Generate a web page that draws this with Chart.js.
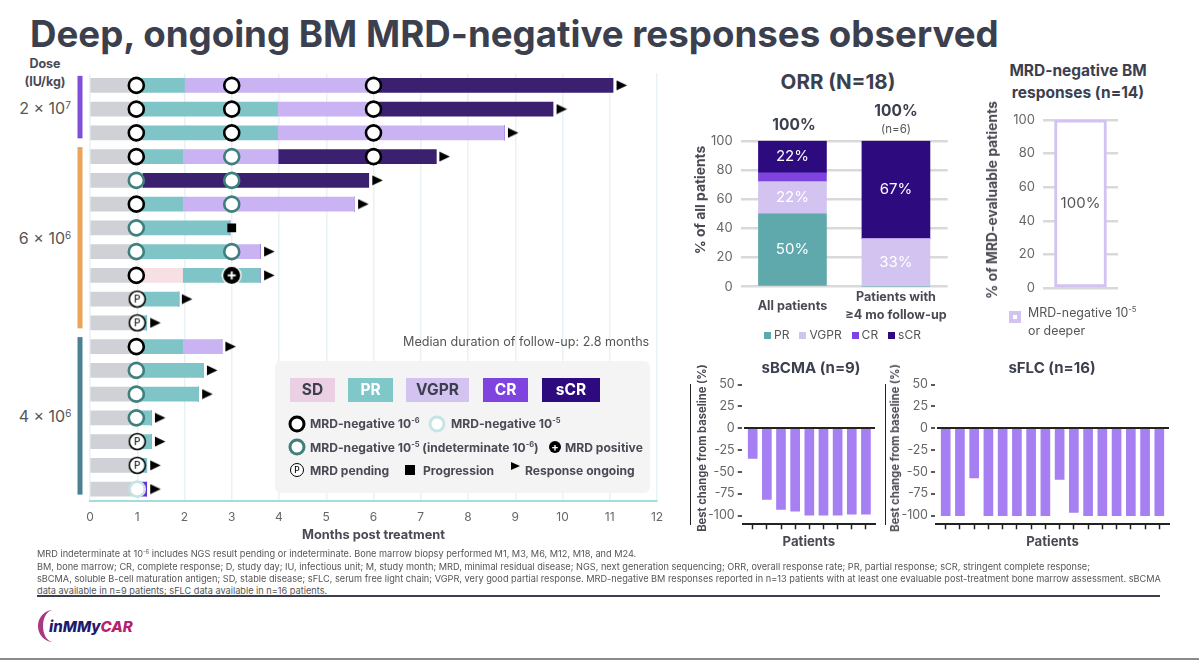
<!DOCTYPE html>
<html><head><meta charset="utf-8">
<script src="https://cdn.jsdelivr.net/npm/chart.js@4"></script>
<style>
html,body{margin:0;padding:0;background:#fff;width:1199px;height:660px;overflow:hidden;font-family:Inter,sans-serif;color:#555}
canvas{position:absolute}
.t{position:absolute;transform:translate(-50%,-50%);white-space:nowrap;text-align:center}
.l{position:absolute;transform:translateY(-50%);white-space:nowrap}
.b{font-weight:700}
.rot{position:absolute;transform:translate(-50%,-50%) rotate(-90deg);white-space:nowrap;font-weight:700;color:#4a4a55}
sup{font-size:.62em;line-height:0;vertical-align:.55em}
.chip{position:absolute;top:378px;height:24px;line-height:24px;text-align:center;font-weight:700;font-size:15.5px}
.lg{font-size:12.1px;font-weight:700;color:#4a4a55}
.ring{position:absolute;width:11px;height:11px;border-radius:50%;background:#fff;transform:translate(-50%,-50%);border:3.5px solid #000}
.fn{position:absolute;left:37px;font-size:9.2px;color:#555;white-space:nowrap;line-height:12px}
</style></head><body>
<div class="l b" style="left:30px;top:33px;font-size:36.7px;color:#3c3f4e">Deep, ongoing BM MRD-negative responses observed</div>

<div class="t b" style="left:45px;top:63px;font-size:12.5px;color:#4a4a55">Dose</div>
<div class="t b" style="left:45px;top:81px;font-size:12.5px;color:#4a4a55">(IU/kg)</div>
<div class="t" style="left:45px;top:108px;font-size:16px">2 × 10<sup>7</sup></div>
<div class="t" style="left:45px;top:238px;font-size:16px">6 × 10<sup>6</sup></div>
<div class="t" style="left:45px;top:416px;font-size:16px">4 × 10<sup>6</sup></div>

<canvas id="swim" width="680" height="490" style="left:0;top:60px;width:680px;height:490px"></canvas>
<canvas id="orr" width="268" height="205" style="left:690px;top:125px;width:268px;height:205px"></canvas>
<canvas id="mrd" width="143" height="200" style="left:985px;top:104px;width:143px;height:200px"></canvas>
<canvas id="bcma" width="190" height="178" style="left:690px;top:374px;width:190px;height:178px"></canvas>
<canvas id="flc" width="289" height="178" style="left:885px;top:374px;width:289px;height:178px"></canvas>

<div class="rot" style="left:700px;top:200px;font-size:13.8px">% of all patients</div>
<div class="rot" style="left:992px;top:200px;font-size:13.9px">% of MRD-evaluable patients</div>
<div class="rot" style="left:702px;top:448px;font-size:11.2px">Best change from baseline (%)</div>
<div class="rot" style="left:895px;top:448px;font-size:11.2px">Best change from baseline (%)</div>

<div class="l" style="left:403px;top:341px;font-size:12.6px;color:#555">Median duration of follow-up: 2.8 months</div>
<div style="position:absolute;left:275px;top:361px;width:375px;height:132px;background:#f4f4f5;border-radius:6px"></div>
<div class="chip" style="left:290px;width:45px;background:#ebd0e4;color:#3c3f4e">SD</div>
<div class="chip" style="left:348px;width:45px;background:#7fc7c9;color:#fff">PR</div>
<div class="chip" style="left:406px;width:63px;background:#d3c3f1;color:#3c3f4e">VGPR</div>
<div class="chip" style="left:483px;width:45px;background:#7f44e0;color:#fff">CR</div>
<div class="chip" style="left:542px;width:58px;background:#2e0a7f;color:#fff">sCR</div>

<div class="ring" style="left:297px;top:424px"></div>
<div class="l lg" style="left:310px;top:423px">MRD-negative 10<sup>-6</sup></div>
<div class="ring" style="left:437px;top:424px;border-color:#c5e5e5"></div>
<div class="l lg" style="left:451px;top:423px">MRD-negative 10<sup>-5</sup></div>
<div class="ring" style="left:297px;top:447px;border-color:#3f7f7c"></div>
<div class="l lg" style="left:310px;top:447px">MRD-negative 10<sup>-5</sup> (indeterminate 10<sup>-6</sup>)</div>
<div style="position:absolute;left:549px;top:441px;width:12px;height:12px;border-radius:50%;background:#000;color:#fff;font:700 11px/12px Inter;text-align:center">+</div>
<div class="l lg" style="left:565px;top:447px">MRD positive</div>
<div style="position:absolute;left:290px;top:463px;width:12px;height:12px;border-radius:50%;border:1.3px solid #000;background:#fff;color:#000;font:500 8.5px/12px Inter;text-align:center">P</div>
<div class="l lg" style="left:310px;top:470px">MRD pending</div>
<div style="position:absolute;left:405px;top:465px;width:10px;height:10px;background:#000"></div>
<div class="l lg" style="left:423px;top:470px">Progression</div>
<div style="position:absolute;left:511px;top:462px;width:0;height:0;border-left:9px solid #000;border-top:4px solid transparent;border-bottom:4px solid transparent"></div>
<div class="l lg" style="left:525px;top:470px">Response ongoing</div>

<div class="t b" style="left:838px;top:81px;font-size:20.5px;color:#3c3f4e">ORR (N=18)</div>
<div class="t b" style="left:1078px;top:70px;font-size:15.5px;color:#3c3f4e">MRD-negative BM</div>
<div class="t b" style="left:1078px;top:92px;font-size:15.5px;color:#3c3f4e">responses (n=14)</div>
<div class="t b" style="left:794px;top:124px;font-size:15.5px;color:#3c3f4e">100%</div>
<div class="t b" style="left:896px;top:110px;font-size:15.5px;color:#3c3f4e">100%</div>
<div class="t" style="left:896px;top:129px;font-size:11.5px;color:#555">(n=6)</div>
<div id="orrLegend" style="position:absolute;left:764px;top:327px;height:12px;font-size:12px;color:#555;white-space:nowrap"></div>

<div style="position:absolute;left:1009px;top:311px;width:4px;height:4px;border:4px solid #d3c3f1;background:#fff"></div>
<div class="l" style="left:1028px;top:312px;font-size:12.4px">MRD-negative 10<sup>-5</sup></div>
<div class="l" style="left:1028px;top:330px;font-size:12.4px">or deeper</div>

<div class="t b" style="left:811px;top:367px;font-size:15px;color:#3c3f4e">sBCMA (n=9)</div>
<div class="t b" style="left:1052px;top:367px;font-size:15px;color:#3c3f4e">sFLC (n=16)</div>

<div class="fn" style="top:548px">MRD indeterminate at 10<sup>-6</sup> includes NGS result pending or indeterminate. Bone marrow biopsy performed M1, M3, M6, M12, M18, and M24.</div>
<div class="fn" style="top:561px">BM, bone marrow; CR, complete response; D, study day; IU, infectious unit; M, study month; MRD, minimal residual disease; NGS, next generation sequencing; ORR, overall response rate; PR, partial response; sCR, stringent complete response;</div>
<div class="fn" style="top:573px">sBCMA, soluble B-cell maturation antigen; SD, stable disease; sFLC, serum free light chain; VGPR, very good partial response. MRD-negative BM responses reported in n=13 patients with at least one evaluable post-treatment bone marrow assessment. sBCMA</div>
<div class="fn" style="top:585px">data available in n=9 patients; sFLC data available in n=16 patients.</div>
<div style="position:absolute;left:37px;top:595px;width:1123px;height:2px;background:#3c3f4e"></div>
<div style="position:absolute;left:38px;top:610px;width:30px;height:32px;border-radius:50%;border-left:5px solid #a9387f;box-sizing:border-box"></div>
<div class="l" style="left:49px;top:626px;font-size:15px;font-weight:800;font-style:italic;color:#1f1a6b">inMMy<span style="color:#b5226e">CAR</span></div>
<div style="position:absolute;left:0;top:658px;width:1199px;height:2px;background:#8a8a8a"></div>

<script>
// ---------- swimmer data (months spent in each state, one entry per patient row) ----------
const rows = ['R1','R2','R3','R4','R5','R6','R7','R8','R9','R10','R11','R12','R13','R14','R15','R16','R17','R18'];
const preResponse = [1,1,1,1,1.1,1,1,1,1,1,1,1,1,1,1,1,1,1];
const sdMonths    = [0,0,0,0,0,0,0,0,0.96,0,0,0,0,0,0,0,0,0];
const prMonths    = [1,2.97,2.97,0.96,0,0.96,1.96,2,1.64,0.88,0.2,0.96,1.39,1.3,0.3,0.3,0.2,0];
const vgprMonths  = [4,2.03,4.8,2.02,0,3.64,0,0.6,0,0,0,0.83,0,0,0,0,0,0];
const crMonths    = [0,0,0,0,0,0,0,0,0,0,0,0,0,0,0,0,0,0.2];
const scrMonths   = [5.07,3.8,0,3.35,4.8,0,0,0,0,0,0,0,0,0,0,0,0,0];
// markers: [month, row]
const mrdNeg6 = [[0.98,'R1'],[3,'R1'],[6,'R1'],[0.98,'R2'],[3,'R2'],[6,'R2'],[0.98,'R3'],[3,'R3'],[6,'R3'],[0.98,'R4'],[6,'R4'],[0.98,'R6'],[0.98,'R9'],[0.98,'R12']];
const mrdIndet = [[3,'R4'],[0.98,'R5'],[3,'R5'],[3,'R6'],[0.98,'R7'],[0.98,'R8'],[3,'R8'],[0.98,'R13'],[0.98,'R14'],[0.98,'R15']];
const mrdNeg5 = [[1,'R18']];
const mrdPositive = [[3,'R9']];
const mrdPending = [[1,'R10'],[1,'R11'],[1,'R16'],[1,'R17']];
const progression = [[3,'R7']];
const ongoing = [[11.25,'R1'],[9.98,'R2'],[8.95,'R3'],[7.5,'R4'],[6.08,'R5'],[5.78,'R6'],[3.79,'R8'],[3.79,'R9'],[2.05,'R10'],[1.38,'R11'],[2.97,'R12'],[2.58,'R13'],[2.48,'R14'],[1.48,'R15'],[1.48,'R16'],[1.38,'R17'],[1.38,'R18']];
const monthTicks = [0,1,2,3,4,5,6,7,8,9,10,11,12];
const doseGroups = [['R1','R3','#7f4fd8'],['R4','R11','#eba45a'],['R12','R18','#4a8090']];
// ---------- ORR ----------
const orrCategories = ['All patients',['Patients with','≥4 mo follow-up']];
const orrPR = [50,0], orrVGPR=[22,33], orrCR=[6,0], orrSCR=[22,67];
const orrTicks = [0,20,40,60,80,100];
// ---------- MRD ----------
const mrdCategories = ['MRD-negative 10-5 or deeper'];
const mrdValues = [100];
// ---------- sBCMA / sFLC ----------
const bcmaPatients = [1,2,3,4,5,6,7,8,9];
const bcmaValues = [-34.5,-81.5,-93,-95,-99.5,-99.5,-99.5,-98.5,-98.5];
const flcPatients = [1,2,3,4,5,6,7,8,9,10,11,12,13,14,15,16];
const flcValues = [-100,-100,-57,-100,-100,-100,-100,-100,-58.5,-96.5,-100,-100,-100,-100,-100,-100];
const changeTicks = [50,25,0,-25,-50,-75,-100];

Chart.defaults.font.family = 'Inter, sans-serif';
Chart.defaults.animation = false;
Chart.defaults.plugins.legend.display = false;
Chart.defaults.plugins.tooltip.enabled = false;
const GREY='#666';

function sprite(w,h,fn){const c=document.createElement('canvas');c.width=w;c.height=h;fn(c.getContext('2d'),w,h);return c;}
const arrowImg = sprite(12,11,(g,w,h)=>{g.fillStyle='#000';g.beginPath();g.moveTo(1,.5);g.lineTo(w-.5,h/2);g.lineTo(1,h-.5);g.closePath();g.fill();});
const pendImg = sprite(19,19,(g)=>{g.beginPath();g.arc(9.5,9.5,8,0,7);g.fillStyle='#fff';g.fill();g.lineWidth=1.6;g.strokeStyle='#000';g.stroke();g.fillStyle='#222';g.font='500 10px Inter';g.textAlign='center';g.textBaseline='middle';g.fillText('P',9.5,10);});
const plusImg = sprite(21,21,(g)=>{g.beginPath();g.arc(10.5,10.5,10,0,7);g.fillStyle='#fff';g.fill();g.beginPath();g.arc(10.5,10.5,8.5,0,7);g.fillStyle='#000';g.fill();g.fillStyle='#fff';g.fillRect(6.5,9.5,8,2);g.fillRect(9.5,6.5,2,8);});

const pts = a => a.map(p=>({x:p[0],y:p[1]}));
const bar = (data,color)=>({type:'bar',data,backgroundColor:color,stack:'s',barThickness:14,order:2});
const ring = (a,color)=>({type:'scatter',data:pts(a),pointStyle:'circle',pointRadius:7.5,pointBorderWidth:2.6,pointBorderColor:color,pointBackgroundColor:'#fff',order:1});
const glyph = (a,img)=>({type:'scatter',data:pts(a),pointStyle:img,pointRadius:6,order:0});

const dosePlugin = {id:'dose',afterDraw(c){const g=c.ctx,y=c.scales.y,a=c.chartArea;
  doseGroups.forEach(d=>{const t=y.getPixelForValue(rows.indexOf(d[0]))-9.5,b=y.getPixelForValue(rows.indexOf(d[1]))+5.5;
    g.fillStyle=d[2];g.fillRect(a.left-12.5,t,5,b-t);});}};

new Chart(document.getElementById('swim'),{
 type:'bar',
 data:{labels:rows,datasets:[
  bar(preResponse,'#cfd1d6'),bar(sdMonths,'#f7e0e4'),bar(prMonths,'#7fc4c6'),bar(vgprMonths,'#c9b3f2'),bar(crMonths,'#6b30d8'),bar(scrMonths,'#3b2070'),
  ring(mrdNeg6,'#000'),ring(mrdIndet,'#3f7f7c'),ring(mrdNeg5,'#c5e5e5'),
  glyph(mrdPositive,plusImg),glyph(mrdPending,pendImg),
  {type:'scatter',data:pts(progression),pointStyle:'rect',pointRadius:6.2,pointBackgroundColor:'#000',pointBorderWidth:0,order:0},
  glyph(ongoing,arrowImg)
 ]},
 options:{responsive:false,indexAxis:'y',
  layout:{padding:{left:90,right:23,top:13.5,bottom:7}},
  scales:{
   y:{type:'category',display:false,grid:{display:false}},
   x:{type:'linear',min:0,max:12,afterBuildTicks:s=>{s.ticks=monthTicks.map(v=>({value:v}));},afterFit:s=>{s.height=42;},
      border:{color:'#a5dcdc',width:2},
      grid:{color:'#e8f2f6',lineWidth:1.5,drawTicks:false},
      ticks:{color:GREY,font:{size:12},padding:9,autoSkip:false,maxRotation:0},
      title:{display:true,text:'Months post treatment',color:'#4a4a55',font:{size:12.8,weight:'700'},padding:{top:0,bottom:0}}}
  }},
 plugins:[dosePlugin]
});

const valueLabels={id:'valueLabels',afterDatasetsDraw(c,_,o){const g=c.ctx;g.save();g.font='15px Inter';g.textAlign='center';g.textBaseline='middle';g.fillStyle=o.color;
  c.data.datasets.forEach((ds,i)=>{c.getDatasetMeta(i).data.forEach((el,j)=>{const v=ds.data[j];if(v>=10){const p=el.getCenterPoint();g.fillText(v+'%',p.x,p.y);}});});g.restore();}};

const softY=(ticks,w)=>({min:0,max:100,afterBuildTicks:s=>{s.ticks=ticks.map(v=>({value:v}));},afterFit:s=>{s.width=w;},
   border:{display:false},grid:{color:'#d9d9d9',lineWidth:2.5,drawTicks:false},
   ticks:{color:GREY,font:{size:13},padding:8}});

const orrColors={PR:'#5fa8ac',VGPR:'#d3c3f1',CR:'#7f44e0',sCR:'#2e0a7f'};
const orrSeries=[['PR',orrPR],['VGPR',orrVGPR],['CR',orrCR],['sCR',orrSCR]];
new Chart(document.getElementById('orr'),{
 type:'bar',
 data:{labels:orrCategories,datasets:orrSeries.map(s=>({label:s[0],data:s[1],backgroundColor:orrColors[s[0]],barThickness:68,stack:'s'}))},
 options:{responsive:false,layout:{padding:{top:13.5,right:10.3,left:0,bottom:0}},
  plugins:{valueLabels:{color:'#fff'}},
  scales:{y:softY(orrTicks,50.7),
   x:{afterFit:s=>{s.height=43.3;},border:{display:false},grid:{display:false},
      ticks:{color:'#4a4a55',font:{size:12.6,weight:'700',lineHeight:1.35},padding:3,crossAlign:'center',maxRotation:0,autoSkip:false}}}},
 plugins:[valueLabels]
});
document.getElementById('orrLegend').innerHTML=orrSeries.map((s,i)=>
 `<span style="display:inline-block;width:7px;height:7px;background:${orrColors[s[0]]};margin:0 3px 0 ${i?10:0}px"></span>${s[0]}`).join('');

new Chart(document.getElementById('mrd'),{
 type:'bar',
 data:{labels:mrdCategories,datasets:[{data:mrdValues,backgroundColor:'#fff',borderColor:'#d3c3f1',borderWidth:3,borderSkipped:false,barThickness:52}]},
 options:{responsive:false,layout:{padding:{top:14,right:10,bottom:0.4}},
  plugins:{valueLabels:{color:'#555'}},
  scales:{y:softY(orrTicks,58),x:{display:false}}},
 plugins:[valueLabels]
});

function waterfall(id,labels,values,xMin,xMax,yWidth,right){
 new Chart(document.getElementById(id),{
  type:'bar',
  data:{labels,datasets:[{data:values,backgroundColor:'#a67ff2',barThickness:9}]},
  options:{responsive:false,layout:{padding:{top:8.3,right,bottom:0}},
   scales:{
    x:{type:'linear',offset:false,min:xMin,max:xMax,afterBuildTicks:s=>{s.ticks=labels.map(v=>({value:v}));},afterFit:s=>{s.height=27.7;},
       border:{color:'#222',width:2},
       grid:{offset:false,drawOnChartArea:false,drawTicks:true,tickLength:5,tickColor:'#222',tickWidth:1.5},
       ticks:{display:false},
       title:{display:true,text:'Patients',color:'#4a4a55',font:{size:13.2,weight:'700'},padding:{top:0,bottom:2}}},
    y:{min:-110,max:50,afterBuildTicks:s=>{s.ticks=changeTicks.map(v=>({value:v}));},afterFit:s=>{s.width=yWidth;},
       border:{color:'#222',width:2},
       grid:{z:1,color:c=>c.tick&&c.tick.value===0?'#222':'rgba(0,0,0,0)',lineWidth:2,tickColor:'#222',tickWidth:1.5,tickLength:5},
       ticks:{color:GREY,font:{size:12.5},padding:3}}
   }}
 });
}
waterfall('bcma',bcmaPatients,bcmaValues,0.294,9.64,52.7,5);
waterfall('flc',flcPatients,flcValues,0.32,16.68,51,5);
</script>
</body></html>
